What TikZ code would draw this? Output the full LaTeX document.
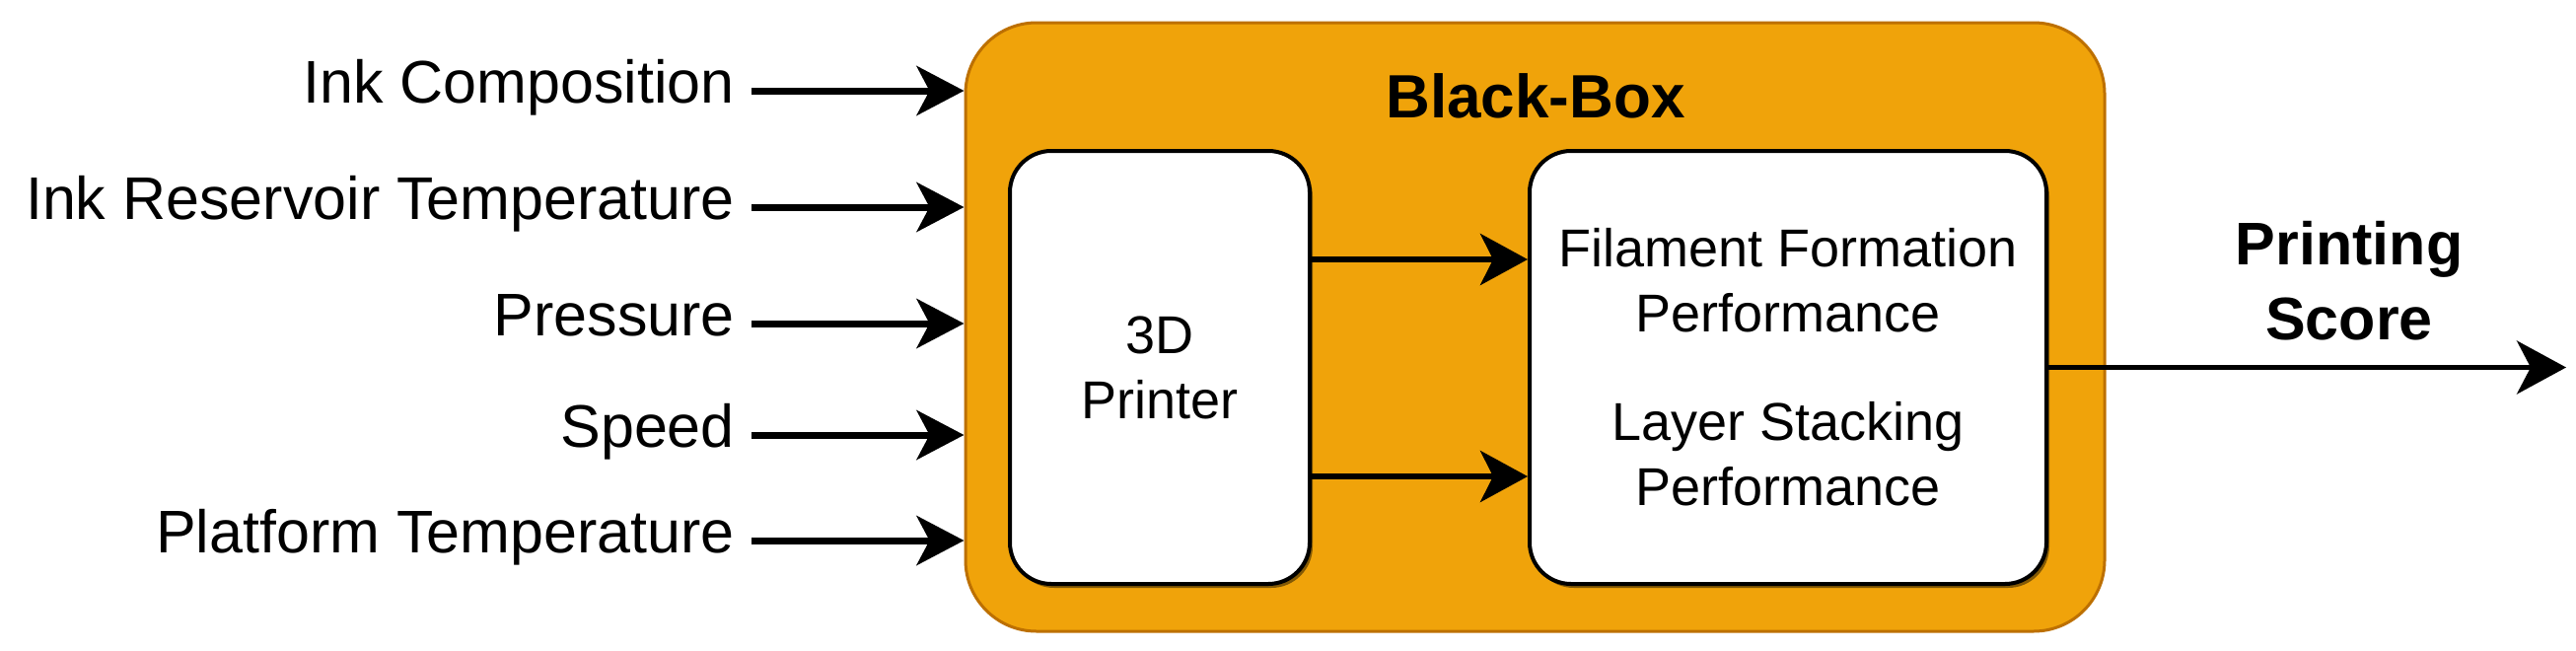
\documentclass[tikz,border=0pt]{standalone}
\usepackage{fontspec}
\setmainfont{Liberation Sans}
\usetikzlibrary{arrows.meta,shadows,calc}
\definecolor{bbfill}{HTML}{F0A30A}
\definecolor{bbline}{HTML}{BD7000}
\tikzset{
  labeltext/.style={anchor=base east, inner sep=0pt, font=\fontsize{61}{73}\selectfont},
  innerbox/.style={draw=black, line width=4pt, fill=white, rounded corners=42pt,
     align=center, inner sep=0pt, font=\fontsize{54}{66}\selectfont,
     drop shadow={shadow xshift=3pt, shadow yshift=-4pt, fill=black, opacity=0.45}},
  inarrow/.style={line width=7pt, -{Stealth[length=48pt, width=50pt, inset=13pt]}},
  midarrow/.style={line width=6pt, -{Stealth[length=48pt, width=52pt, inset=13pt]}},
  outarrow/.style={line width=5pt, -{Stealth[length=50pt, width=54pt, inset=14pt]}},
}
\begin{document}
\begin{tikzpicture}[x=1pt,y=-1pt]
\useasboundingbox[fill=white] (0,0) rectangle (2612,659);

% black box container
\node[draw=bbline, line width=3pt, fill=bbfill, rounded corners=72pt,
      minimum width=1155pt, minimum height=617pt, inner sep=0pt]
      (bb) at (1556.5,331.5) {};
\node[anchor=base, inner sep=0pt, font=\fontsize{62}{74}\selectfont\bfseries]
      (bbt) at (1557,119) {Black-Box};

% inner boxes
\node[innerbox, minimum width=304pt, minimum height=439pt]
      (lb) at (1176,372.5) {3D\\Printer};
\node[innerbox, minimum width=524pt, minimum height=439pt]
      (rb) at (1813,372.5) {Filament Formation\\Performance\\[44pt]Layer Stacking\\Performance};

% input labels
\node[labeltext] (l1) at (745,104) {Ink Composition};
\node[labeltext] (l2) at (745,222) {Ink Reservoir Temperature};
\node[labeltext] (l3) at (745,340) {Pressure};
\node[labeltext] (l4) at (745,453) {Speed};
\node[labeltext] (l5) at (745,560) {Platform Temperature};

\coordinate (s1) at (762,92);
\coordinate (s2) at (762,210);
\coordinate (s3) at (762,328);
\coordinate (s4) at (762,441);
\coordinate (s5) at (762,548);
\foreach \i in {1,...,5}{
  \draw[inarrow] (s\i) -- (s\i -| bb.west);
}

% internal arrows
\coordinate (a1) at (0,263);
\coordinate (a2) at (0,483);
\draw[midarrow] (lb.east |- a1) -- (rb.west |- a1);
\draw[midarrow] (lb.east |- a2) -- (rb.west |- a2);

% output
\coordinate (out) at (2602,372.5);
\draw[outarrow] (rb.east) -- (out);
\node[align=center, inner sep=0pt, font=\fontsize{61}{76}\selectfont\bfseries]
      (ps) at (2382,285) {Printing\\Score};
\end{tikzpicture}
\end{document}
